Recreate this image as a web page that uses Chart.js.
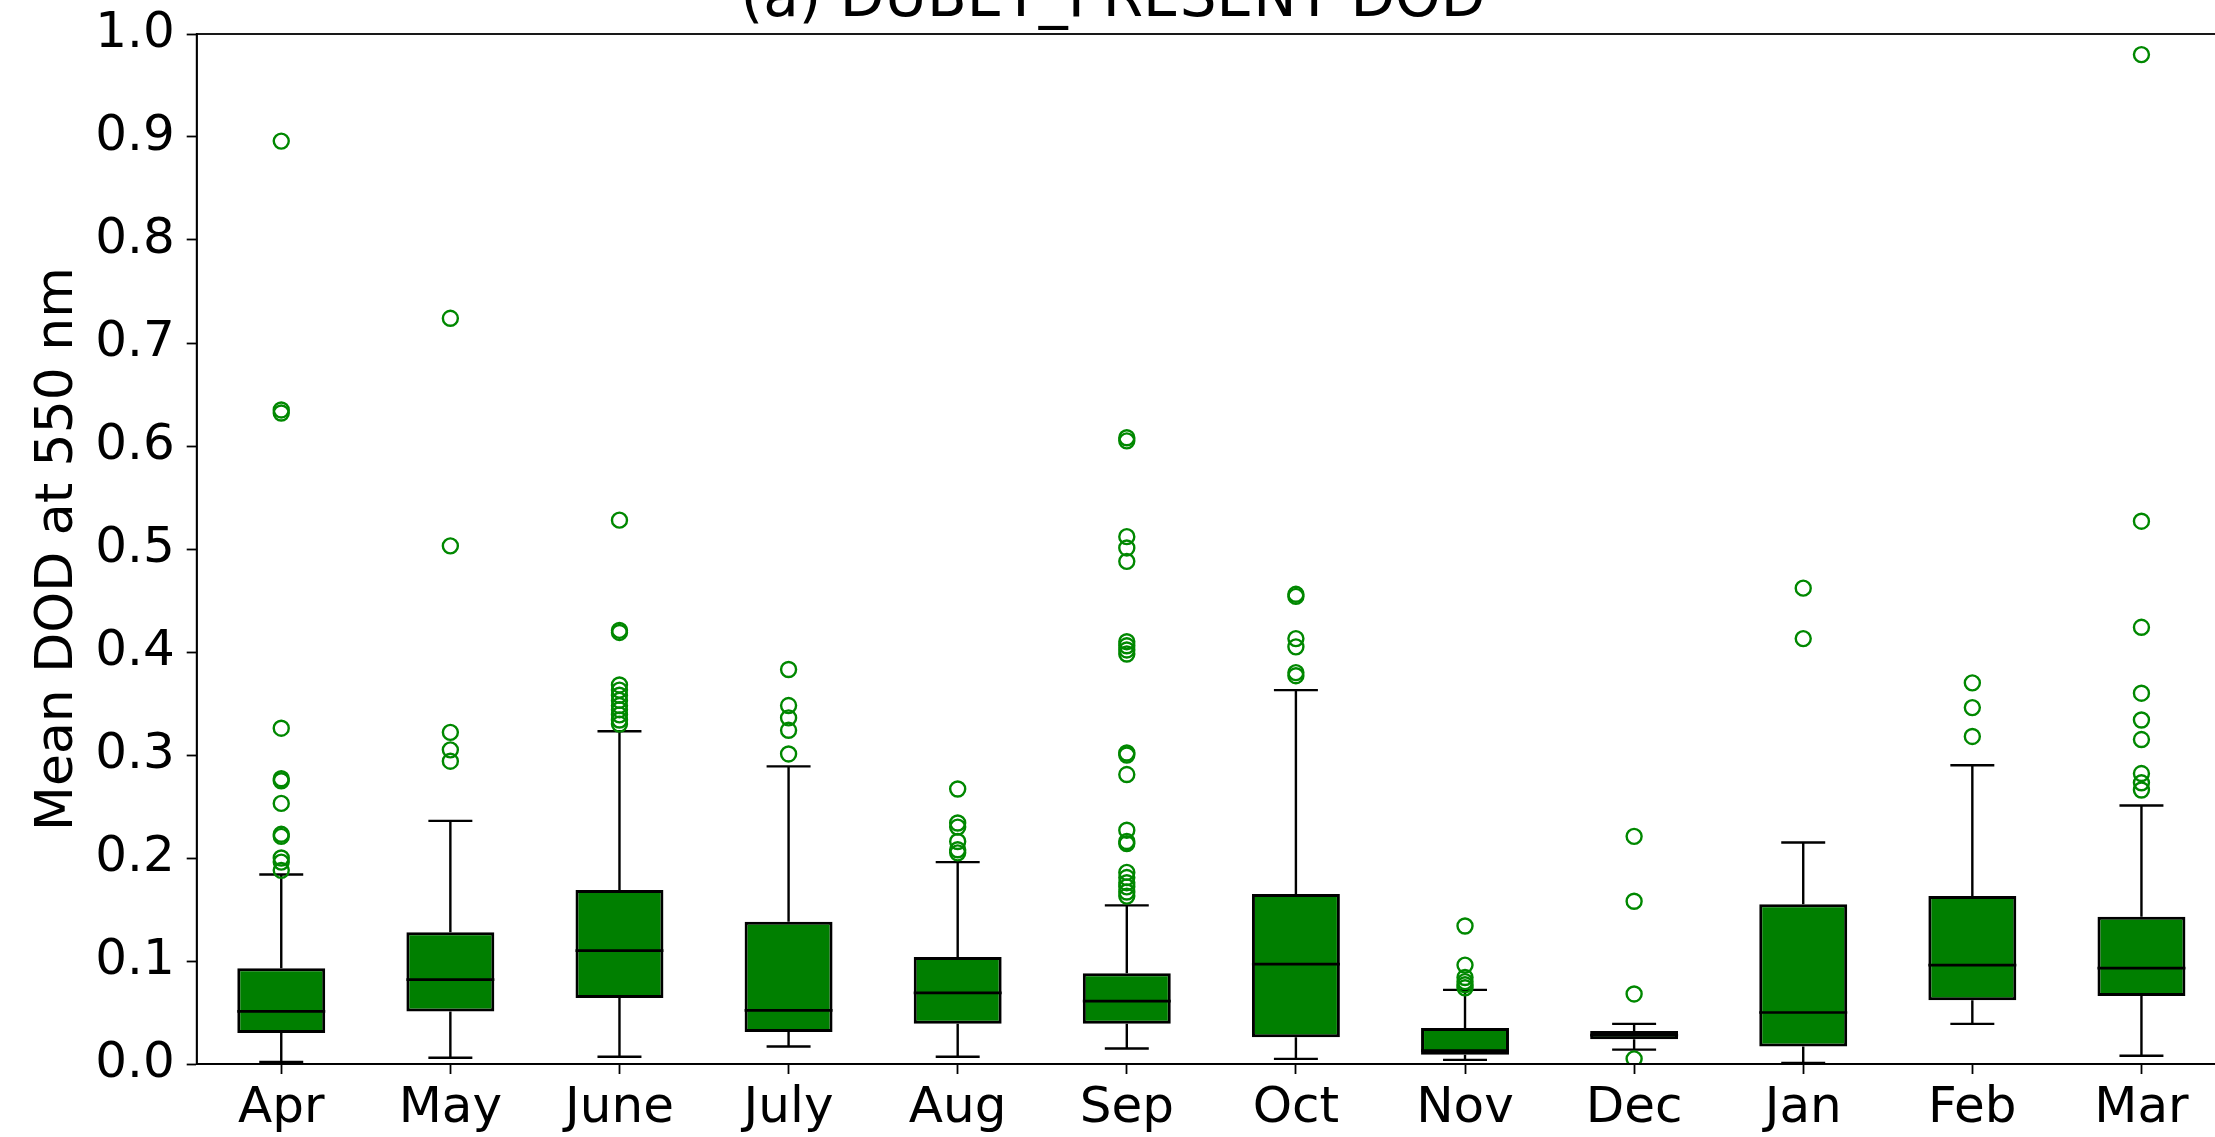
<!DOCTYPE html>
<html>
<head>
<meta charset="utf-8">
<script src="https://cdn.jsdelivr.net/npm/chart.js@4.4.1/dist/chart.umd.min.js"></script>
<style>
html, body { margin: 0; padding: 0; overflow: hidden; background: #fff; width: 2215px; height: 1137px; }
#wrap { position: absolute; left: 0; top: -40px; width: 2260px; height: 1177px; }
</style>
</head>
<body>
<div id="wrap"><canvas id="chart"></canvas></div>
<script>
var months = ['Apr', 'May', 'June', 'July', 'Aug', 'Sep', 'Oct', 'Nov', 'Dec', 'Jan', 'Feb', 'Mar'];

// box plot stats per month
var whiskerLow  = [0.002, 0.006, 0.007, 0.017, 0.007, 0.015, 0.005, 0.004, 0.014, 0.001, 0.039, 0.008];
var q1          = [0.030, 0.051, 0.064, 0.031, 0.039, 0.039, 0.026, 0.009, 0.024, 0.017, 0.062, 0.066];
var median      = [0.051, 0.082, 0.110, 0.052, 0.069, 0.061, 0.097, 0.013, 0.028, 0.050, 0.096, 0.093];
var q3          = [0.093, 0.128, 0.169, 0.138, 0.104, 0.088, 0.165, 0.035, 0.032, 0.155, 0.163, 0.143];
var whiskerHigh = [0.184, 0.236, 0.323, 0.289, 0.196, 0.154, 0.363, 0.072, 0.039, 0.215, 0.290, 0.251];

var outliers = [
    [0.896, 0.635, 0.632, 0.326, 0.277, 0.275, 0.253, 0.223, 0.221, 0.200, 0.196, 0.188],
    [0.724, 0.503, 0.322, 0.305, 0.294],
    [0.528, 0.421, 0.419, 0.368, 0.363, 0.358, 0.353, 0.348, 0.344, 0.339, 0.334, 0.330],
    [0.383, 0.348, 0.336, 0.324, 0.301],
    [0.267, 0.234, 0.230, 0.216, 0.208, 0.205],
    [0.608, 0.605, 0.512, 0.501, 0.488, 0.410, 0.406, 0.402, 0.398, 0.302, 0.300, 0.281,
     0.227, 0.216, 0.214, 0.186, 0.181, 0.176, 0.172, 0.167, 0.163],
    [0.456, 0.454, 0.413, 0.405, 0.380, 0.377],
    [0.134, 0.096, 0.084, 0.080, 0.077, 0.074],
    [0.221, 0.158, 0.068, 0.005],
    [0.462, 0.413],
    [0.370, 0.346, 0.318],
    [0.980, 0.527, 0.424, 0.360, 0.334, 0.315, 0.282, 0.273, 0.266]
];

var yTicks = [0, 0.1, 0.2, 0.3, 0.4, 0.5, 0.6, 0.7, 0.8, 0.9, 1.0];

var boxes = months.map(function(m, i) { return [q1[i], q3[i]]; });
var fliers = [];
outliers.forEach(function(list, i) {
    list.forEach(function(v) { fliers.push({x: months[i], y: v}); });
});

var FONT = 'DejaVu Sans';

var boxPlugin = {
    id: 'boxParts',
    beforeDatasetsDraw: function(chart) {
        var ctx = chart.ctx;
        var xs = chart.scales.x, ys = chart.scales.y;
        var meta = chart.getDatasetMeta(0);
        ctx.save();
        ctx.strokeStyle = '#000';
        ctx.lineWidth = 2.4;
        months.forEach(function(m, i) {
            var x = xs.getPixelForValue(i);
            var half = meta.data[i].width / 4;
            ctx.beginPath();
            ctx.moveTo(x, ys.getPixelForValue(whiskerLow[i]));
            ctx.lineTo(x, ys.getPixelForValue(q1[i]));
            ctx.moveTo(x, ys.getPixelForValue(q3[i]));
            ctx.lineTo(x, ys.getPixelForValue(whiskerHigh[i]));
            ctx.moveTo(x - half, ys.getPixelForValue(whiskerLow[i]));
            ctx.lineTo(x + half, ys.getPixelForValue(whiskerLow[i]));
            ctx.moveTo(x - half, ys.getPixelForValue(whiskerHigh[i]));
            ctx.lineTo(x + half, ys.getPixelForValue(whiskerHigh[i]));
            ctx.stroke();
        });
        ctx.restore();
    },
    afterDatasetDraw: function(chart, args) {
        if (args.index !== 0) return;
        var ctx = chart.ctx;
        var xs = chart.scales.x, ys = chart.scales.y;
        var meta = chart.getDatasetMeta(0);
        ctx.save();
        ctx.strokeStyle = '#000';
        ctx.lineWidth = 2.7;
        months.forEach(function(m, i) {
            var x = xs.getPixelForValue(i);
            var half = meta.data[i].width / 2;
            var y = ys.getPixelForValue(median[i]);
            ctx.beginPath();
            ctx.moveTo(x - half, y);
            ctx.lineTo(x + half, y);
            ctx.stroke();
        });
        ctx.restore();
    },
    afterDraw: function(chart) {
        var a = chart.chartArea, ctx = chart.ctx;
        ctx.save();
        ctx.strokeStyle = '#000';
        ctx.lineWidth = 1.8;
        ctx.strokeRect(a.left, a.top, a.right - a.left, a.bottom - a.top);
        ctx.restore();
    }
};

new Chart(document.getElementById('chart'), {
    type: 'bar',
    data: {
        labels: months,
        datasets: [{
            type: 'bar',
            data: boxes,
            backgroundColor: '#007f00',
            borderColor: '#000',
            borderWidth: 3,
            borderSkipped: false,
            categoryPercentage: 1.0,
            barPercentage: 0.52,
            order: 2
        }, {
            type: 'line',
            data: fliers,
            showLine: false,
            pointStyle: 'circle',
            pointRadius: 7.5,
            pointBorderWidth: 2.4,
            pointBorderColor: '#008800',
            pointBackgroundColor: 'rgba(0,0,0,0)',
            order: 1
        }]
    },
    options: {
        responsive: true,
        maintainAspectRatio: false,
        animation: false,
        events: [],
        layout: { padding: { left: 0, right: 34, top: 0, bottom: 0 } },
        plugins: {
            legend: { display: false },
            tooltip: { enabled: false },
            title: {
                display: true,
                text: '(a) DUBEY_PRESENT DOD',
                color: '#000',
                font: { family: FONT, size: 58, weight: 'normal', lineHeight: 1.0 },
                padding: { top: 12, bottom: 4 }
            }
        },
        scales: {
            x: {
                type: 'category',
                offset: true,
                grid: { drawOnChartArea: false, drawTicks: true, tickLength: 10, tickWidth: 1.8, tickColor: '#000', offset: false },
                border: { display: true, color: '#000', width: 1.8 },
                ticks: { color: '#000', font: { family: FONT, size: 50 }, padding: 5, maxRotation: 0, autoSkip: false },
                afterFit: function(s) { s.height = 73; }
            },
            y: {
                type: 'linear',
                min: 0,
                max: 1.0,
                afterBuildTicks: function(s) { s.ticks = yTicks.map(function(v) { return {value: v}; }); },
                grid: { drawOnChartArea: false, drawTicks: true, tickLength: 10, tickWidth: 1.8, tickColor: '#000' },
                border: { display: true, color: '#000', width: 1.8 },
                ticks: {
                    color: '#000',
                    font: { family: FONT, size: 50 },
                    padding: 12,
                    callback: function(v) { return Number(v).toFixed(1); }
                },
                title: {
                    display: true,
                    text: 'Mean DOD at 550 nm',
                    color: '#000',
                    font: { family: FONT, size: 52 },
                    padding: { top: 27, bottom: 0 }
                },
                afterFit: function(s) { s.width = 196.7; }
            }
        }
    },
    plugins: [boxPlugin]
});
</script>
</body>
</html>
